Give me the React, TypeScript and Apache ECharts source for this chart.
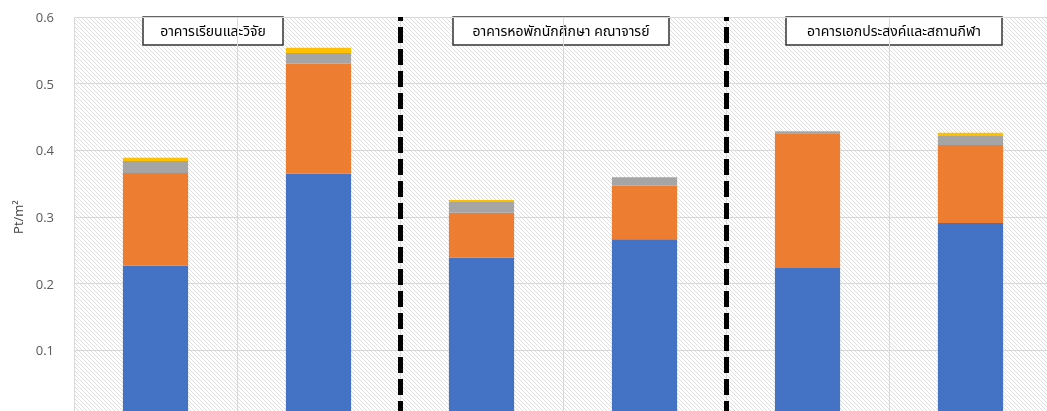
import React, { useEffect, useRef } from "react";
import * as echarts from "echarts";

// Six buildings-scenarios, stacked impact components (Pt/m²)
const categories = ["1", "2", "3", "4", "5", "6"];
const seriesNames = ["ส่วนที่ 1", "ส่วนที่ 2", "ส่วนที่ 3", "ส่วนที่ 4"];
const blueValues = [0.227, 0.365, 0.239, 0.2665, 0.2235, 0.291];
const orangeValues = [0.139, 0.165, 0.0675, 0.0805, 0.202, 0.117];
const grayValues = [0.018, 0.016, 0.017, 0.0125, 0.003, 0.0145];
const yellowValues = [0.005, 0.008, 0.002, 0.0, 0.0, 0.004];
const yTicks = [0, 0.1, 0.2, 0.3, 0.4, 0.5, 0.6];
// Group dividers sit on category boundaries (index units)
const dividers = [2, 4];
const groupTitles = [
  "อาคารเรียนและวิจัย",
  "อาคารหอพักนักศึกษา คณาจารย์",
  "อาคารเอกประสงค์และสถานกีฬา",
];

const colors = ["#4472C4", "#ED7D31", "#A5A5A5", "#FFC000"];
const thaiFont = 'Tahoma, "Leelawadee UI", "Noto Sans Thai", "Noto Sans", sans-serif';

function makeHatch(): HTMLCanvasElement {
  const c = document.createElement("canvas");
  c.width = 4;
  c.height = 4;
  const ctx = c.getContext("2d")!;
  ctx.fillStyle = "#ffffff";
  ctx.fillRect(0, 0, 4, 4);
  ctx.fillStyle = "#dedede";
  for (let i = 0; i < 4; i++) ctx.fillRect(i, i, 1, 1);
  return c;
}

export default function App() {
  const ref = useRef<HTMLDivElement>(null);

  useEffect(() => {
    if (!ref.current) return;
    const chart = echarts.init(ref.current, null, { renderer: "svg" });
    const stacks = [blueValues, orangeValues, grayValues, yellowValues];

    const boxes = [
      { x: 143, w: 140 },
      { x: 453, w: 216 },
      { x: 786, w: 216 },
    ];

    chart.setOption({
      animation: false,
      grid: {
        left: 74,
        top: 17,
        width: 978,
        height: 400,
        show: true,
        borderWidth: 0,
        backgroundColor: { image: makeHatch(), repeat: "repeat" } as any,
      },
      xAxis: [
        {
          type: "category",
          data: categories,
          axisLine: { show: true, lineStyle: { color: "#d9d9d9" } },
          axisTick: { show: false },
          axisLabel: { show: false },
          splitLine: { show: true, lineStyle: { color: "#d9d9d9", width: 1 } },
        },
        {
          type: "value",
          min: 0,
          max: categories.length,
          show: false,
        },
      ],
      yAxis: {
        type: "value",
        min: yTicks[0],
        max: yTicks[yTicks.length - 1],
        interval: 0.1,
        name: "Pt/m²",
        nameLocation: "middle",
        nameGap: 50,
        nameRotate: 90,
        nameTextStyle: { color: "#404040", fontSize: 13, fontFamily: "Open Sans, sans-serif" },
        axisLine: { show: false },
        axisTick: { show: false },
        axisLabel: {
          color: "#595959",
          fontSize: 13,
          margin: 20,
          fontFamily: "Open Sans, sans-serif",
          formatter: (v: number) => (v === 0 ? "0" : v.toFixed(1)),
        },
        splitLine: { show: true, lineStyle: { color: "#d9d9d9", width: 1 } },
      },
      series: [
        ...stacks.map((vals, i) => ({
          name: seriesNames[i],
          type: "bar",
          stack: "total",
          barWidth: "40%",
          data: vals,
          itemStyle: { color: colors[i] },
        })),
        {
          type: "line",
          xAxisIndex: 1,
          data: [],
          markLine: {
            silent: true,
            symbol: "none",
            label: { show: false },
            lineStyle: { color: "#000", width: 5, type: [16, 6] },
            data: dividers.map((d) => ({ xAxis: d })),
          },
        },
      ],
      graphic: groupTitles.map((t, i) => ({
        type: "group",
        x: boxes[i].x,
        y: 17,
        children: [
          {
            type: "rect",
            shape: { x: 0, y: 0, width: boxes[i].w, height: 28 },
            style: { fill: "#fff", stroke: "#333", lineWidth: 1.5 },
          },
          {
            type: "text",
            x: boxes[i].w / 2,
            y: 14,
            style: {
              text: t,
              fill: "#000",
              fontSize: 14,
              fontFamily: thaiFont,
              align: "center",
              verticalAlign: "middle",
            },
          },
        ],
      })),
    });

    return () => chart.dispose();
  }, []);

  return (
    <div
      ref={ref}
      style={{ position: "fixed", left: 0, top: 0, width: 1060, height: 445 }}
    />
  );
}
